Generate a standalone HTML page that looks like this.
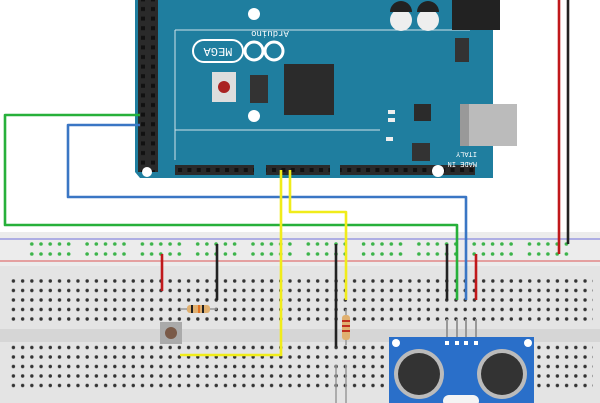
<!DOCTYPE html>
<html><head><style>body{margin:0;background:#fff}svg{display:block}</style></head><body>
<svg width="600" height="403" viewBox="0 0 600 403" xmlns="http://www.w3.org/2000/svg" font-family="Liberation Mono, monospace">
<defs>
<pattern id="h" x="8.8" y="276.25" width="9.22" height="9.5" patternUnits="userSpaceOnUse"><circle cx="4.61" cy="4.75" r="1.7" fill="#333"/></pattern>
<pattern id="r" x="27.2" y="239.5" width="55.3" height="10" patternUnits="userSpaceOnUse"><g fill="#3cb44a"><circle cx="4.6" cy="4.5" r="1.8"/><circle cx="13.8" cy="4.5" r="1.8"/><circle cx="23" cy="4.5" r="1.8"/><circle cx="32.3" cy="4.5" r="1.8"/><circle cx="41.5" cy="4.5" r="1.8"/></g></pattern>
<pattern id="p" x="138" y="4" width="10" height="9.6" patternUnits="userSpaceOnUse"><rect x="3" y="3" width="4" height="4" fill="#111"/></pattern>
<pattern id="q" x="175" y="165" width="9.4" height="10" patternUnits="userSpaceOnUse"><rect x="3" y="3" width="4" height="4" fill="#111"/></pattern>
</defs>
<!-- breadboard -->
<rect x="0" y="232" width="600" height="171" fill="#e4e4e4"/>
<rect x="0" y="232" width="600" height="34" fill="#ececec"/>
<line x1="0" y1="239" x2="600" y2="239" stroke="#8888dd" stroke-width="1.2"/>
<line x1="0" y1="261" x2="600" y2="261" stroke="#dd5555" stroke-width="1"/>
<rect x="27" y="239" width="545" height="20" fill="url(#r)"/>
<rect x="0" y="329" width="600" height="13" fill="#d6d6d6"/>
<rect x="8" y="276" width="585" height="48" fill="url(#h)"/>
<rect x="8" y="342" width="585" height="48" fill="url(#h)"/>
<!-- arduino -->
<path d="M135 0 H493 V178 H140 L135 172 Z" fill="#1f7e9f"/>
<rect x="138" y="0" width="20" height="172" fill="#2a2a2a"/>
<rect x="138" y="0" width="20" height="172" fill="url(#p)"/>
<rect x="175" y="165" width="300" height="10" fill="#2a2a2a"/>
<rect x="175" y="165" width="300" height="10" fill="url(#q)"/>
<rect x="254" y="165" width="12" height="10" fill="#1f7e9f"/><rect x="330" y="165" width="10" height="10" fill="#1f7e9f"/>
<path d="M175 30 H470 M175 30 V160 M175 130 H380" stroke="#cfe3ea" stroke-width="1" fill="none"/>
<rect x="284" y="64" width="50" height="51" fill="#2b2b2b"/>
<rect x="212" y="72" width="24" height="30" fill="#ddd"/><circle cx="224" cy="87" r="6" fill="#a22"/>
<rect x="250" y="75" width="18" height="28" fill="#333"/>
<rect x="193" y="40" width="50" height="22" rx="11" fill="none" stroke="#fff" stroke-width="2"/>
<text x="218" y="56" font-size="12" fill="#fff" text-anchor="middle" transform="rotate(180 218 52)">MEGA</text>
<circle cx="254" cy="51" r="9" fill="none" stroke="#fff" stroke-width="3"/><circle cx="274" cy="51" r="9" fill="none" stroke="#fff" stroke-width="3"/>
<text x="270" y="37" font-size="9" fill="#fff" text-anchor="middle" transform="rotate(180 270 34)">Arduino</text>
<circle cx="254" cy="14" r="6" fill="#fff"/><circle cx="254" cy="116" r="6" fill="#fff"/><circle cx="438" cy="171" r="6" fill="#fff"/><circle cx="147" cy="172" r="5" fill="#fff"/>
<circle cx="401" cy="20" r="11" fill="#eee"/><circle cx="428" cy="20" r="11" fill="#eee"/>
<path d="M390 12 A11 11 0 0 1 412 12 Z M417 12 A11 11 0 0 1 439 12 Z" fill="#222"/>
<rect x="452" y="0" width="48" height="30" fill="#222"/>
<rect x="455" y="38" width="14" height="24" fill="#333"/>
<rect x="460" y="104" width="57" height="42" fill="#bbb"/><rect x="460" y="104" width="9" height="42" fill="#999"/>
<rect x="412" y="143" width="18" height="18" fill="#333"/>
<rect x="414" y="104" width="17" height="17" fill="#2b2b2b"/>
<g fill="#eee"><rect x="388" y="110" width="7" height="4"/><rect x="388" y="118" width="7" height="4"/><rect x="386" y="137" width="7" height="4"/></g>
<text x="477" y="168" font-size="7" fill="#fff" transform="rotate(180 477 165)">MADE IN</text>
<text x="477" y="158" font-size="7" fill="#fff" transform="rotate(180 477 155)">ITALY</text>
<!-- wires -->
<g fill="none" stroke-width="2.6" stroke-linejoin="round">
<path d="M140 115 H5 V225 H457 V300" stroke="#27b03a"/>
<path d="M140 125 H68 V197 H466 V300" stroke="#3a76c4"/>
<path d="M281 170 V355 H180" stroke="#f0ec1a"/>
<path d="M290 170 V212 H346 V300" stroke="#f0ec1a"/>
<path d="M559 0 V254" stroke="#c0181b"/>
<path d="M568 0 V244" stroke="#222"/>
<path d="M162 254 V291" stroke="#c0181b"/>
<path d="M217 244 V300" stroke="#222"/>
<path d="M336 244 V347" stroke="#222"/>
<path d="M447 244 V300" stroke="#222"/>
<path d="M476 254 V300" stroke="#c0181b"/>
</g>
<!-- resistors -->
<line x1="180" y1="309" x2="217" y2="309" stroke="#999" stroke-width="1.5"/>
<rect x="187" y="305" width="23" height="8" rx="3" fill="#e0b070"/>
<g fill="#222"><rect x="191" y="305" width="2" height="8"/><rect x="198" y="305" width="2" height="8" fill="#e07020"/><rect x="202" y="305" width="2" height="8"/></g>
<line x1="346" y1="309" x2="346" y2="345" stroke="#999" stroke-width="1.5"/>
<rect x="342" y="315" width="8" height="25" rx="3" fill="#e0b070"/>
<g fill="#c03020"><rect x="342" y="320" width="8" height="2"/><rect x="342" y="325" width="8" height="2"/><rect x="342" y="330" width="8" height="2"/></g>
<!-- button -->
<rect x="160" y="322" width="22" height="22" fill="#aaa"/><circle cx="171" cy="333" r="6" fill="#7a5a48"/>
<!-- legs -->
<path d="M336 365 V403 M346 365 V403" stroke="#999" stroke-width="1.5"/>
<!-- sensor -->
<g stroke="#999" stroke-width="2"><path d="M447 319 V340 M457 319 V340 M466 319 V340 M476 319 V340"/></g>
<rect x="389" y="337" width="145" height="70" fill="#2a6fc9"/>
<circle cx="396" cy="343" r="4" fill="#fff"/><circle cx="528" cy="343" r="4" fill="#fff"/>
<circle cx="419" cy="374" r="25" fill="#bbb"/><circle cx="419" cy="374" r="21" fill="#333"/>
<circle cx="502" cy="374" r="25" fill="#bbb"/><circle cx="502" cy="374" r="21" fill="#333"/>
<rect x="443" y="395" width="36" height="12" rx="6" fill="#f4f4f4"/>
<g fill="#fff"><rect x="445" y="341" width="4" height="4"/><rect x="455" y="341" width="4" height="4"/><rect x="464" y="341" width="4" height="4"/><rect x="474" y="341" width="4" height="4"/></g>
</svg>
</body></html>
